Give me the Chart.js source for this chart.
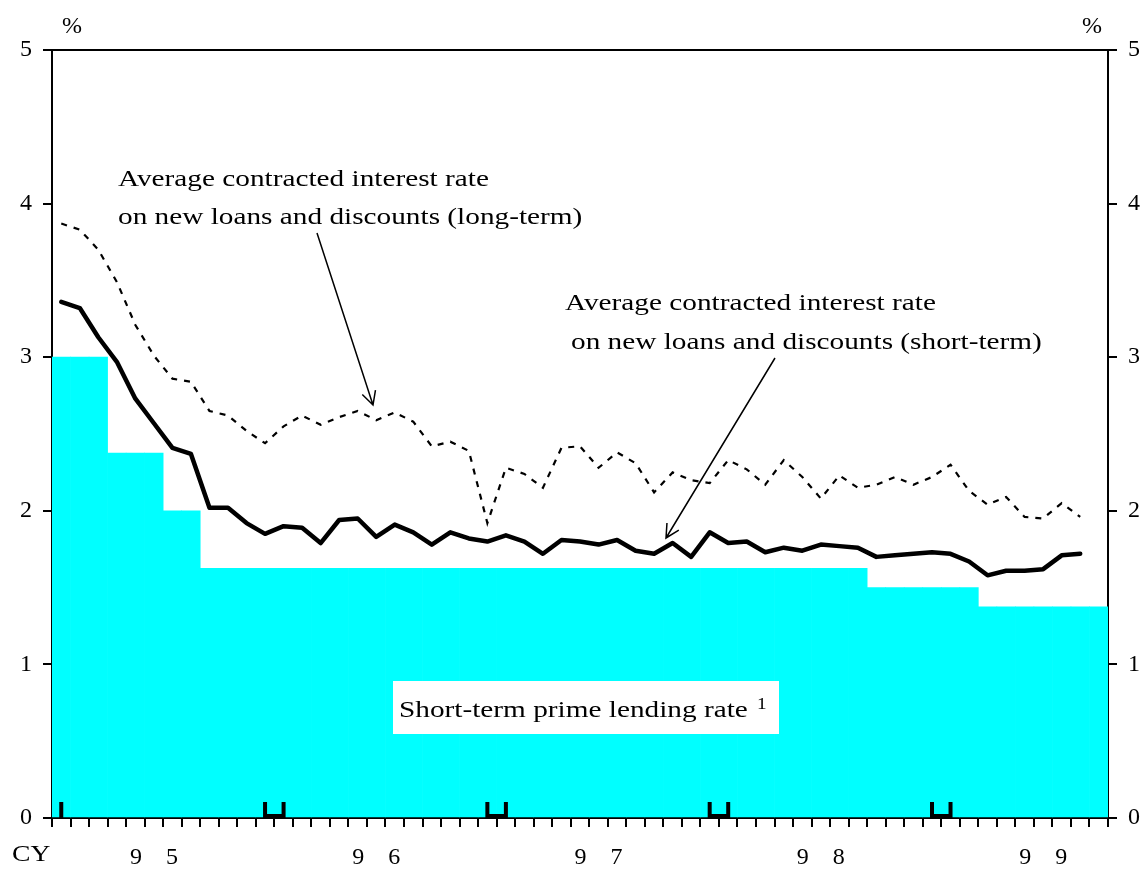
<!DOCTYPE html>
<html>
<head>
<meta charset="utf-8">
<script src="https://cdn.jsdelivr.net/npm/chart.js@4.4.1/dist/chart.umd.min.js"></script>
<style>
html,body{margin:0;padding:0;background:#fff;}
#wrap{width:1147px;height:872px;position:relative;}
</style>
</head>
<body>
<div id="wrap"><canvas id="c" width="1147" height="872"></canvas></div>
<script>
// ---- data ----
const years = [1995, 1996, 1997, 1998, 1999];
const monthsPerYear = [12, 12, 12, 12, 9];
const yearTickLabels = ['9    5', '9    6', '9    7', '9    8', '9    9'];
const yTicks = [0, 1, 2, 3, 4, 5];

// Short-term prime lending rate (monthly, Jan 1995 - Sep 1999)
const primeRate = [
  3.0, 3.0, 3.0, 2.375, 2.375, 2.375, 2.0, 2.0, 1.625, 1.625, 1.625, 1.625,
  1.625, 1.625, 1.625, 1.625, 1.625, 1.625, 1.625, 1.625, 1.625, 1.625, 1.625, 1.625,
  1.625, 1.625, 1.625, 1.625, 1.625, 1.625, 1.625, 1.625, 1.625, 1.625, 1.625, 1.625,
  1.625, 1.625, 1.625, 1.625, 1.625, 1.625, 1.625, 1.625, 1.5, 1.5, 1.5, 1.5,
  1.5, 1.5, 1.375, 1.375, 1.375, 1.375, 1.375, 1.375, 1.375
];

// Average contracted interest rate on new loans and discounts (short-term)
const shortTermRate = [
  3.36, 3.32, 3.13, 2.97, 2.73, 2.57, 2.41, 2.37, 2.02, 2.02, 1.92, 1.85,
  1.90, 1.89, 1.79, 1.94, 1.95, 1.83, 1.91, 1.86, 1.78, 1.86, 1.82, 1.80,
  1.84, 1.80, 1.72, 1.81, 1.80, 1.78, 1.81, 1.74, 1.72, 1.79, 1.70, 1.86,
  1.79, 1.80, 1.73, 1.76, 1.74, 1.78, 1.77, 1.76, 1.70, 1.71, 1.72, 1.73,
  1.72, 1.67, 1.58, 1.61, 1.61, 1.62, 1.71, 1.72, null
];

// Average contracted interest rate on new loans and discounts (long-term)
const longTermRate = [
  3.87, 3.83, 3.70, 3.49, 3.21, 3.01, 2.86, 2.84, 2.65, 2.62, 2.52, 2.44,
  2.55, 2.62, 2.56, 2.61, 2.65, 2.59, 2.64, 2.58, 2.42, 2.45, 2.39, 1.92,
  2.28, 2.24, 2.15, 2.41, 2.42, 2.28, 2.38, 2.31, 2.12, 2.25, 2.20, 2.18,
  2.33, 2.27, 2.17, 2.33, 2.22, 2.08, 2.23, 2.15, 2.17, 2.22, 2.17, 2.22,
  2.30, 2.13, 2.04, 2.09, 1.96, 1.95, 2.05, 1.96, null
];

// categories: year-month
const categories = [];
const catYear = [];
const catMonth = [];
years.forEach((yr, yi) => {
  for (let m = 1; m <= monthsPerYear[yi]; m++) {
    categories.push(yr + '-' + (m < 10 ? '0' : '') + m);
    catYear.push(yi);
    catMonth.push(m);
  }
});

const FONT = "'Liberation Serif', 'Times New Roman', Times, serif";
Chart.defaults.font.family = FONT;
Chart.defaults.font.size = 24;
Chart.defaults.color = '#000';

function sText(ctx, txt, x, y, size, sx) {
  ctx.save();
  ctx.font = size + 'px ' + FONT;
  ctx.textBaseline = 'alphabetic';
  ctx.textAlign = 'left';
  ctx.fillStyle = '#000';
  ctx.translate(x, y);
  ctx.scale(sx, 1);
  ctx.fillText(txt, 0, 0);
  ctx.restore();
}

function arrow(ctx, x1, y1, x2, y2) {
  ctx.save();
  ctx.strokeStyle = '#000';
  ctx.lineWidth = 1.5;
  ctx.beginPath();
  ctx.moveTo(x1, y1);
  ctx.lineTo(x2, y2);
  const ang = Math.atan2(y1 - y2, x1 - x2);
  const L = 15, h = 0.48;
  ctx.moveTo(x2 + L * Math.cos(ang - h), y2 + L * Math.sin(ang - h));
  ctx.lineTo(x2, y2);
  ctx.lineTo(x2 + L * Math.cos(ang + h), y2 + L * Math.sin(ang + h));
  ctx.stroke();
  ctx.restore();
}

const deco = {
  id: 'deco',
  afterDatasetsDraw(chart) {
    const ctx = chart.ctx;
    const xs = chart.scales.x, ys = chart.scales.y;
    const base = ys.getPixelForValue(0);
    // year separator markers
    ctx.save();
    ctx.strokeStyle = '#000';
    ctx.lineWidth = 4;
    ctx.lineJoin = 'miter';
    ctx.beginPath();
    const p0 = xs.getPixelForValue(0);
    ctx.moveTo(p0, base - 16);
    ctx.lineTo(p0, base);
    ctx.stroke();
    for (let i = 0; i < categories.length - 1; i++) {
      if (catMonth[i] === 12) {
        const x1 = xs.getPixelForValue(i), x2 = xs.getPixelForValue(i + 1);
        ctx.beginPath();
        ctx.moveTo(x1, base - 16);
        ctx.lineTo(x1, base - 2);
        ctx.lineTo(x2, base - 2);
        ctx.lineTo(x2, base - 16);
        ctx.stroke();
      }
    }
    ctx.restore();

    // prime rate label box
    ctx.save();
    ctx.fillStyle = '#fff';
    ctx.fillRect(393, 681, 386, 53);
    ctx.restore();
    sText(ctx, 'Short-term prime lending rate', 399, 717, 24, 1.22);
    sText(ctx, '1', 757, 709, 16, 1.2);

    // annotations
    sText(ctx, 'Average contracted interest rate', 118, 186, 24, 1.22);
    sText(ctx, 'on new loans and discounts (long-term)', 118, 224, 24, 1.22);
    sText(ctx, 'Average contracted interest rate', 565, 310, 24, 1.22);
    sText(ctx, 'on new loans and discounts (short-term)', 571, 349, 24, 1.22);
    arrow(ctx, 317, 233, 373, 405);
    arrow(ctx, 775, 358, 666, 538);
  },
  afterDraw(chart) {
    const ctx = chart.ctx, a = chart.chartArea;
    ctx.save();
    ctx.strokeStyle = '#000';
    ctx.lineWidth = 2;
    ctx.beginPath();
    ctx.moveTo(a.left, a.top);
    ctx.lineTo(a.right, a.top);
    ctx.stroke();
    ctx.restore();
    sText(ctx, '%', 62, 33, 24, 1.0);
    sText(ctx, '%', 1082, 33, 24, 1.0);
    sText(ctx, 'CY', 12, 861, 24, 1.15);
  }
};

const yAxisCommon = {
  type: 'linear',
  min: 0,
  max: 5,
  z: 1,
  afterBuildTicks(scale) { scale.ticks = yTicks.map(v => ({ value: v })); },
  ticks: { padding: 11, font: { size: 24 }, color: '#000' },
  grid: { drawOnChartArea: false, drawTicks: true, tickLength: 9, color: '#000', lineWidth: 2 },
  border: { display: true, color: '#000', width: 2 }
};

new Chart(document.getElementById('c'), {
  type: 'bar',
  data: {
    labels: categories,
    datasets: [
      {
        type: 'line',
        label: 'Average contracted interest rate on new loans and discounts (short-term)',
        data: shortTermRate,
        borderColor: '#000',
        borderWidth: 4.5,
        borderJoinStyle: 'round',
        borderCapStyle: 'round',
        pointRadius: 0,
        tension: 0,
        fill: false,
        order: 1,
        yAxisID: 'y'
      },
      {
        type: 'line',
        label: 'Average contracted interest rate on new loans and discounts (long-term)',
        data: longTermRate,
        borderColor: '#000',
        borderWidth: 2.2,
        borderDash: [6, 7],
        pointRadius: 0,
        tension: 0,
        fill: false,
        order: 2,
        yAxisID: 'y'
      },
      {
        type: 'bar',
        label: 'Short-term prime lending rate',
        data: primeRate,
        backgroundColor: '#00FFFF',
        borderWidth: 0,
        barPercentage: 1.0,
        categoryPercentage: 1.0,
        order: 3,
        yAxisID: 'y'
      }
    ]
  },
  options: {
    responsive: false,
    animation: false,
    devicePixelRatio: 1,
    layout: { padding: { top: 50, left: 0, right: 0, bottom: 0 } },
    plugins: { legend: { display: false }, tooltip: { enabled: false } },
    scales: {
      x: {
        type: 'category',
        offset: true,
        z: 1,
        afterFit(scale) { scale.height = 54; },
        grid: { offset: true, drawOnChartArea: false, drawTicks: true, tickLength: 9, color: '#000', lineWidth: 2 },
        border: { display: true, color: '#000', width: 2 },
        ticks: {
          autoSkip: false,
          maxRotation: 0,
          minRotation: 0,
          padding: 16,
          font: { size: 24 },
          color: '#000',
          callback(value, index) {
            return catMonth[index] === 6 ? yearTickLabels[catYear[index]] : '';
          }
        }
      },
      y: Object.assign({}, yAxisCommon, {
        position: 'left',
        afterFit(scale) { scale.width = 52; }
      }),
      y2: Object.assign({}, yAxisCommon, {
        position: 'right',
        afterFit(scale) { scale.width = 39; }
      })
    }
  },
  plugins: [deco]
});
</script>
</body>
</html>
